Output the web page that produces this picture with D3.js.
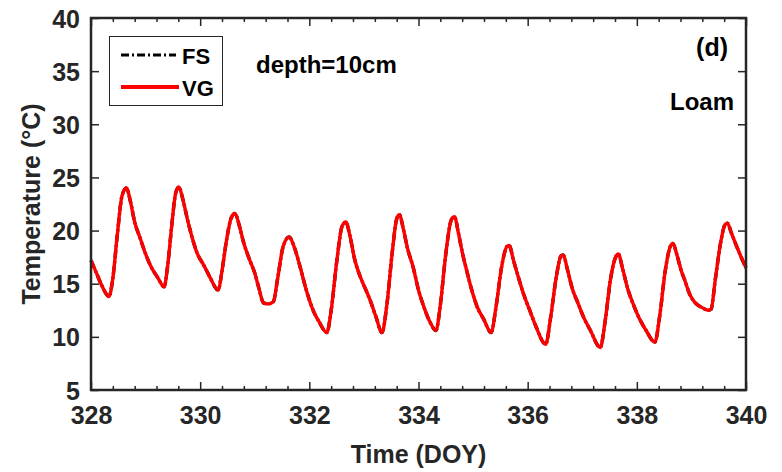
<!DOCTYPE html>
<html>
<head>
<meta charset="utf-8">
<script src="https://cdn.jsdelivr.net/npm/d3@7"></script>
<style>
  body { margin: 0; background: #fff; }
  text { font-family: "Liberation Sans", Arial, sans-serif; font-weight: bold; }
</style>
</head>
<body>
<svg width="782" height="472"></svg>
<script>
// time axis (day of year) and soil temperature at 10 cm
var doy = [
	328.00, 328.10, 328.20, 328.33, 328.40, 328.48, 328.57, 328.65, 328.72, 328.80, 328.90, 329.00, 329.10, 329.22,
	329.34, 329.40, 329.48, 329.55, 329.61, 329.68, 329.76, 329.85, 329.95, 330.06, 330.18,
	330.33, 330.40, 330.48, 330.57, 330.64, 330.71, 330.80, 330.91, 331.00, 331.08, 331.16, 331.25,
	331.34, 331.42, 331.52, 331.63, 331.72, 331.83, 331.95, 332.07, 332.18,
	332.32, 332.40, 332.50, 332.60, 332.67, 332.74, 332.83, 332.93, 333.02, 333.11, 333.22,
	333.33, 333.42, 333.52, 333.60, 333.65, 333.72, 333.80, 333.90, 334.00, 334.10, 334.21,
	334.32, 334.40, 334.50, 334.60, 334.66, 334.73, 334.80, 334.88, 334.97, 335.07, 335.20,
	335.33, 335.42, 335.52, 335.62, 335.66, 335.74, 335.83, 335.92, 336.03, 336.15,
	336.33, 336.42, 336.52, 336.61, 336.65, 336.73, 336.82, 336.92, 337.02, 337.15,
	337.33, 337.42, 337.52, 337.62, 337.66, 337.74, 337.84, 337.94, 338.03, 338.17,
	338.33, 338.42, 338.52, 338.62, 338.66, 338.74, 338.81, 338.88, 338.97, 339.07, 339.18,
	339.31, 339.36, 339.44, 339.54, 339.62, 339.66, 339.73, 339.83, 339.92, 340.00
];
var vg = [
	17.2, 16.0, 14.8, 13.8, 15.5, 19.5, 23.3, 24.0, 22.8, 20.8, 19.3, 17.8, 16.6, 15.6,
	14.7, 16.5, 20.5, 23.5, 24.1, 23.0, 21.2, 19.4, 17.8, 16.8, 15.6,
	14.4, 16.2, 19.0, 21.2, 21.6, 20.6, 18.8, 17.2, 16.0, 14.5, 13.2, 13.1,
	13.3, 15.5, 18.5, 19.4, 18.5, 16.6, 14.3, 12.5, 11.4,
	10.4, 12.5, 17.0, 20.4, 20.8, 19.6, 17.3, 15.7, 14.6, 13.5, 11.9,
	10.4, 13.0, 18.0, 21.1, 21.5, 20.2, 18.3, 16.6, 14.4, 12.8, 11.4,
	10.6, 13.0, 17.8, 21.0, 21.3, 19.8, 18.0, 16.3, 14.5, 12.9, 11.6,
	10.4, 12.8, 16.5, 18.5, 18.6, 17.2, 15.6, 14.1, 12.6, 11.0,
	9.3, 11.8, 15.5, 17.6, 17.7, 16.3, 14.5, 13.2, 11.9, 10.6,
	9.0, 11.5, 15.5, 17.6, 17.8, 16.4, 14.4, 13.0, 11.9, 10.6,
	9.5, 12.0, 16.2, 18.6, 18.8, 17.6, 16.3, 15.3, 14.0, 13.2, 12.8,
	12.5, 12.6, 15.5, 19.0, 20.6, 20.7, 19.8, 18.5, 17.4, 16.5
];
var fs = vg.slice(); // FS and VG overlap throughout

var xTicks = [328, 330, 332, 334, 336, 338, 340];
var yTicks = [5, 10, 15, 20, 25, 30, 35, 40];

var svg = d3.select("svg");
var pLeft = 91, pRight = 746, pTop = 18, pBottom = 390;
var axisColor = "#262626";

var x = d3.scaleLinear().domain([328, 340]).range([pLeft, pRight]);
var y = d3.scaleLinear().domain([5, 40]).range([pBottom, pTop]);

var line = d3.line()
	.x(function(d, i) { return x(doy[i]); })
	.y(function(d) { return y(d); })
	.curve(d3.curveMonotoneX);

// curves first, box drawn over them
svg.append("path").datum(fs)
	.attr("d", line).attr("fill", "none")
	.attr("stroke", "#000").attr("stroke-width", 3.4)
	.attr("stroke-dasharray", "8,3,2,3");
svg.append("path").datum(vg)
	.attr("d", line).attr("fill", "none")
	.attr("stroke", "#ff0000").attr("stroke-width", 3.4)
	.attr("stroke-linejoin", "round");

// minor x ticks every 0.4 day
var minor = d3.range(0, 31).map(function(i) { return 328 + i * 0.4; })
	.filter(function(v) { return Math.abs(v - Math.round(v / 2) * 2) > 0.01; });

function addAxis(gen, tx, ty) {
	var g = svg.append("g").attr("transform", "translate(" + tx + "," + ty + ")").call(gen);
	g.select(".domain").remove();
	g.selectAll("line").attr("stroke", axisColor).attr("stroke-width", 1.5);
	return g;
}

// all ticks point inward
var gx = addAxis(d3.axisBottom(x).tickValues(xTicks).tickSize(-8).tickPadding(16), 0, pBottom);
gx.selectAll("text").attr("font-size", 25).attr("fill", axisColor);
addAxis(d3.axisBottom(x).tickValues(minor).tickSize(-4).tickFormat(""), 0, pBottom);
addAxis(d3.axisTop(x).tickValues(xTicks).tickSize(-8).tickFormat(""), 0, pTop);
addAxis(d3.axisTop(x).tickValues(minor).tickSize(-4).tickFormat(""), 0, pTop);

var gy = addAxis(d3.axisLeft(y).tickValues(yTicks).tickSize(-8).tickPadding(11), pLeft, 0);
gy.selectAll("text").attr("font-size", 25).attr("fill", axisColor).attr("dy", "0.36em");
addAxis(d3.axisRight(y).tickValues(yTicks).tickSize(-8).tickFormat(""), pRight, 0);

// frame
svg.append("rect")
	.attr("x", pLeft).attr("y", pTop)
	.attr("width", pRight - pLeft).attr("height", pBottom - pTop)
	.attr("fill", "none").attr("stroke", axisColor).attr("stroke-width", 2.5);

// axis titles
svg.append("text")
	.attr("x", (pLeft + pRight) / 2).attr("y", 463)
	.attr("text-anchor", "middle").attr("font-size", 25).attr("fill", axisColor)
	.text("Time (DOY)");
svg.append("text")
	.attr("transform", "translate(40," + (pTop + pBottom) / 2 + ") rotate(-90)")
	.attr("text-anchor", "middle").attr("font-size", 25).attr("fill", axisColor)
	.text("Temperature (\u00B0C)");

// annotations
svg.append("text").attr("x", 256).attr("y", 73).attr("font-size", 24).text("depth=10cm");
svg.append("text").attr("x", 728).attr("y", 56).attr("text-anchor", "end").attr("font-size", 25).text("(d)");
svg.append("text").attr("x", 734).attr("y", 110).attr("text-anchor", "end").attr("font-size", 24).text("Loam");

// legend
var leg = svg.append("g");
leg.append("rect").attr("x", 109.5).attr("y", 36.5).attr("width", 113).attr("height", 69)
	.attr("fill", "#fff").attr("stroke", "#262626").attr("stroke-width", 1);
leg.append("line").attr("x1", 121).attr("x2", 176).attr("y1", 55).attr("y2", 55)
	.attr("stroke", "#000").attr("stroke-width", 3).attr("stroke-dasharray", "8,3,2,3");
leg.append("line").attr("x1", 121).attr("x2", 179).attr("y1", 87).attr("y2", 87)
	.attr("stroke", "#ff0000").attr("stroke-width", 4);
leg.append("text").attr("x", 182).attr("y", 64).attr("font-size", 22).text("FS");
leg.append("text").attr("x", 182).attr("y", 96).attr("font-size", 22).text("VG");
</script>
</body>
</html>
